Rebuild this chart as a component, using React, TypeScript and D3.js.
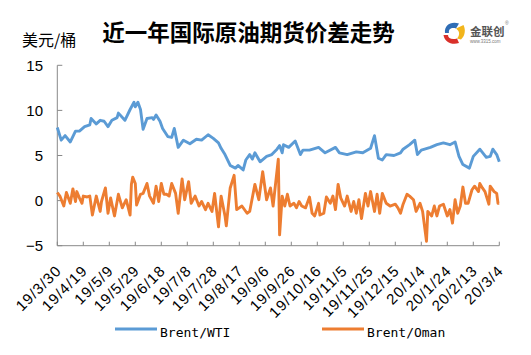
import React from "react";
import * as d3 from "d3";

const W = 531;
const H = 355;

const xTickLabels = ["19/3/30","19/4/19","19/5/9","19/5/29","19/6/18","19/7/8","19/7/28","19/8/17","19/9/6","19/9/26","19/10/16","19/11/5","19/11/25","19/12/15","20/1/4","20/1/24","20/2/13","20/3/4"];
const yTicks = [-5, 0, 5, 10, 15];

const wtiDates = [
"2019-03-30","2019-04-02","2019-04-05","2019-04-09","2019-04-13","2019-04-16","2019-04-20","2019-04-24","2019-04-25","2019-04-29",
"2019-05-02","2019-05-05","2019-05-08","2019-05-11","2019-05-15","2019-05-16","2019-05-21","2019-05-25","2019-05-28","2019-05-29",
"2019-05-31","2019-06-02","2019-06-04","2019-06-07","2019-06-11","2019-06-12","2019-06-14","2019-06-17","2019-06-19","2019-06-23",
"2019-06-26","2019-06-28","2019-07-01","2019-07-05","2019-07-10","2019-07-15","2019-07-19","2019-07-24","2019-07-28","2019-08-01",
"2019-08-03","2019-08-06","2019-08-10","2019-08-14","2019-08-16","2019-08-20","2019-08-22","2019-08-25","2019-08-27","2019-08-29",
"2019-09-02","2019-09-07","2019-09-11","2019-09-15","2019-09-17","2019-09-19","2019-09-20","2019-09-24","2019-09-29","2019-10-03",
"2019-10-05","2019-10-10","2019-10-17","2019-10-22","2019-10-30","2019-11-02","2019-11-08","2019-11-15","2019-11-20","2019-11-26",
"2019-11-29","2019-12-02","2019-12-05","2019-12-08","2019-12-14","2019-12-19","2019-12-21","2019-12-26","2019-12-30","2020-01-01",
"2020-01-04","2020-01-11","2020-01-16","2020-01-21","2020-01-26","2020-01-30","2020-02-02","2020-02-05","2020-02-10","2020-02-13",
"2020-02-18","2020-02-23","2020-02-26","2020-02-28","2020-03-02","2020-03-04"];
const wtiValues = [
8.1,6.7,7.2,6.5,7.7,7.7,8.2,8.4,9.1,8.5,
8.9,8.8,8.2,8.9,9.2,9.7,8.9,10.1,10.9,10.4,
10.9,10.1,7.9,9.1,9.2,9.0,9.5,8.8,8.0,7.1,
7.0,8.0,5.9,6.7,6.3,6.8,6.7,7.3,6.9,6.4,
5.8,5.1,3.9,3.6,3.9,3.4,4.5,5.1,4.6,5.3,
4.3,4.9,5.1,5.7,6.1,5.3,6.2,5.9,6.6,5.1,
5.6,5.6,5.9,5.3,5.9,5.3,5.1,5.4,5.3,5.8,
7.2,4.7,4.5,5.1,5.0,5.3,5.7,6.2,6.7,5.1,
5.6,5.9,6.2,6.4,6.2,6.5,4.9,4.0,3.6,4.9,
5.7,4.8,4.9,5.7,5.1,4.3];

const omanDates = [
"2019-03-30","2019-04-01","2019-04-04","2019-04-06","2019-04-07","2019-04-09","2019-04-11","2019-04-13","2019-04-14","2019-04-16",
"2019-04-18","2019-04-19","2019-04-22","2019-04-24","2019-04-26","2019-04-29","2019-05-02","2019-05-03","2019-05-06","2019-05-08",
"2019-05-10","2019-05-13","2019-05-16","2019-05-19","2019-05-22","2019-05-25","2019-05-26","2019-05-27","2019-05-29","2019-05-30",
"2019-06-02","2019-06-04","2019-06-07","2019-06-09","2019-06-12","2019-06-14","2019-06-16","2019-06-18","2019-06-20","2019-06-22",
"2019-06-24","2019-06-26","2019-06-29","2019-07-01","2019-07-04","2019-07-06","2019-07-09","2019-07-11","2019-07-14","2019-07-17",
"2019-07-19","2019-07-22","2019-07-24","2019-07-27","2019-07-29","2019-08-01","2019-08-03","2019-08-06","2019-08-07","2019-08-10",
"2019-08-13","2019-08-15","2019-08-19","2019-08-23","2019-08-25","2019-08-29","2019-09-01","2019-09-04","2019-09-07","2019-09-10",
"2019-09-12","2019-09-16","2019-09-17","2019-09-19","2019-09-21","2019-09-23","2019-09-25","2019-09-28","2019-09-30","2019-10-02",
"2019-10-04","2019-10-07","2019-10-10","2019-10-12","2019-10-14","2019-10-17","2019-10-18","2019-10-21","2019-10-23","2019-10-26",
"2019-10-28","2019-10-30","2019-11-01","2019-11-03","2019-11-06","2019-11-08","2019-11-11","2019-11-13","2019-11-15","2019-11-17",
"2019-11-19","2019-11-22","2019-11-24","2019-11-26","2019-11-29","2019-12-01","2019-12-03","2019-12-05","2019-12-08","2019-12-11",
"2019-12-15","2019-12-17","2019-12-19","2019-12-21","2019-12-24","2019-12-26","2019-12-29","2019-12-31","2020-01-03","2020-01-05",
"2020-01-08","2020-01-09","2020-01-12","2020-01-14","2020-01-16","2020-01-18","2020-01-21","2020-01-24","2020-01-26","2020-01-28",
"2020-01-30","2020-02-01","2020-02-03","2020-02-05","2020-02-07","2020-02-09","2020-02-12","2020-02-14","2020-02-17","2020-02-18",
"2020-02-20","2020-02-22","2020-02-25","2020-02-26","2020-02-29","2020-03-02","2020-03-03","2020-03-04"];
const omanValues = [
0.9,0.5,-0.6,0.9,0.5,-0.3,1.3,-0.1,1.0,0.3,
-0.3,0.5,0.4,0.5,-1.6,0.5,-1.2,-0.1,1.4,-1.4,
0.3,-1.7,0.7,-0.8,0.1,-1.6,1.8,2.6,1.9,-0.5,
0.7,0.8,1.9,0.5,-0.3,1.6,-0.1,1.9,0.7,0.7,
0.5,1.9,0.8,-1.4,2.4,0.1,2.1,-0.3,0.5,-0.6,
-0.1,-1.0,-0.3,-1.2,0.8,-2.9,0.5,-1.7,-2.8,1.4,
2.8,-1.0,-0.6,-1.4,-1.2,1.8,0.1,3.2,0.1,1.4,
-0.6,4.6,-3.8,0.5,-0.6,0.7,-0.6,-0.3,-0.8,-0.1,
-0.6,-0.8,0.4,-1.4,-1.7,-0.3,-1.6,-1.4,0.4,-0.3,
0.5,-1.0,1.8,0.3,-0.6,0.5,-1.2,-0.1,-1.4,0.1,
-2.0,0.8,-0.6,1.0,-1.2,0.7,-1.4,0.8,-0.3,-0.6,
-0.4,-0.8,-1.4,-0.4,0.7,0.5,0.1,-1.2,-0.3,-1.2,
-4.5,-1.2,-1.7,-0.6,-1.7,-0.6,-0.4,-1.7,-1.0,-2.5,
0.1,-1.4,-0.6,1.5,-0.3,-0.3,1.2,1.6,1.0,1.9,
1.4,1.0,-0.4,1.6,1.0,0.8,-0.3,-0.3];

const seriesNames = ["Brent/WTI", "Brent/Oman"];
const colors = ["#5B9BD5", "#ED7D31"];

const parse = d3.timeParse("%Y-%m-%d");

export default function App() {
  const x0 = 57.3, x1 = 499.3, yTop = 65.3, yBot = 245.7;
  const start = parse("2019-03-30") as Date;
  const end = parse("2020-03-04") as Date;
  const x = d3.scaleTime().domain([start, end]).range([x0, x1]);
  const y = d3.scaleLinear().domain([-5, 15]).range([yBot, yTop]);
  const tickDates = xTickLabels.map((_, i) => d3.timeDay.offset(start, i * 20));

  const line = d3.line<[Date, number]>().x(d => x(d[0])).y(d => y(d[1]));
  const wti: [Date, number][] = wtiDates.map((d, i) => [parse(d) as Date, wtiValues[i]]);
  const oman: [Date, number][] = omanDates.map((d, i) => [parse(d) as Date, omanValues[i]]);

  const axisColor = "#898989";
  const sans = "'Liberation Sans', Arial, sans-serif";
  const cjk = "'Noto Sans CJK SC', sans-serif";

  return (
    <svg width={W} height={H} style={{ position: "absolute", left: 0, top: 0, background: "#fff" }}>
      <rect x={0} y={0} width={W} height={H} fill="#fff" />
      {/* title */}
      <text x={248.5} y={41} textAnchor="middle" fontFamily={cjk} fontWeight={700} fontSize={22.5} fill="#000">近一年国际原油期货价差走势</text>
      <text x={22} y={46} fontFamily={cjk} fontSize={16} fill="#000">美元/桶</text>

      {/* logo */}
      <g>
        <path d="M445,33 C444,25 451,21 459,23.5 L456,28.5 C452,27 448,29 449,33 Z" fill="#2F6DB5" />
        <path d="M443.5,35 C444.5,42 452,45.5 459,43 L457,38.5 C452,40 448,38.5 448,35 Z" fill="#D9302A" />
        <path d="M456,28.5 L463.5,25 C466,30 465,36 461,39.5 L457,38.5 C460,35 460,31.5 456,28.5 Z" fill="#F2B51C" />
        <text x={470} y={36} fontFamily={cjk} fontWeight={700} fontSize={11.5} fill="#555">金联创</text>
        <text x={470} y={42.5} fontFamily={sans} fontSize={4.5} fill="#777">www.3315.com</text>
        <text x={505} y={25} fontFamily={sans} fontSize={5} fill="#777">®</text>
      </g>

      {/* axes */}
      <line x1={x0} x2={x0} y1={yTop} y2={yBot} stroke={axisColor} strokeWidth={1} />
      <line x1={x0} x2={x1} y1={yBot} y2={yBot} stroke={axisColor} strokeWidth={1} />
      {yTicks.map(t => (
        <g key={t}>
          <line x1={x0} x2={x0 + 5} y1={y(t)} y2={y(t)} stroke={axisColor} />
          <text x={43} y={y(t) + 5.3} textAnchor="end" fontFamily={sans} fontSize={15} fill="#000">{t < 0 ? "\u2212" + Math.abs(t) : String(t)}</text>
        </g>
      ))}
      {tickDates.map((d, i) => (
        <g key={i}>
          <line x1={x(d)} x2={x(d)} y1={yBot} y2={yBot - 4} stroke={axisColor} />
          <text transform={`translate(${x(d) + 5},${yBot + 26}) rotate(-45)`} textAnchor="end" fontFamily={sans} fontSize={15} letterSpacing={1} fill="#000">{xTickLabels[i]}</text>
        </g>
      ))}

      {/* lines */}
      <path d={line(wti) || ""} fill="none" stroke={colors[0]} strokeWidth={2.9} strokeLinejoin="round" />
      <path d={line(oman) || ""} fill="none" stroke={colors[1]} strokeWidth={2.9} strokeLinejoin="round" />

      {/* legend */}
      {seriesNames.map((n, i) => {
        const lx = i === 0 ? 115 : 322;
        return (
          <g key={n}>
            <line x1={lx} x2={lx + 42} y1={329} y2={329} stroke={colors[i]} strokeWidth={3} />
            <text x={lx + 45} y={336.5} fontFamily="'DejaVu Sans Mono', monospace" fontSize={13} fill="#000">{n}</text>
          </g>
        );
      })}
    </svg>
  );
}
